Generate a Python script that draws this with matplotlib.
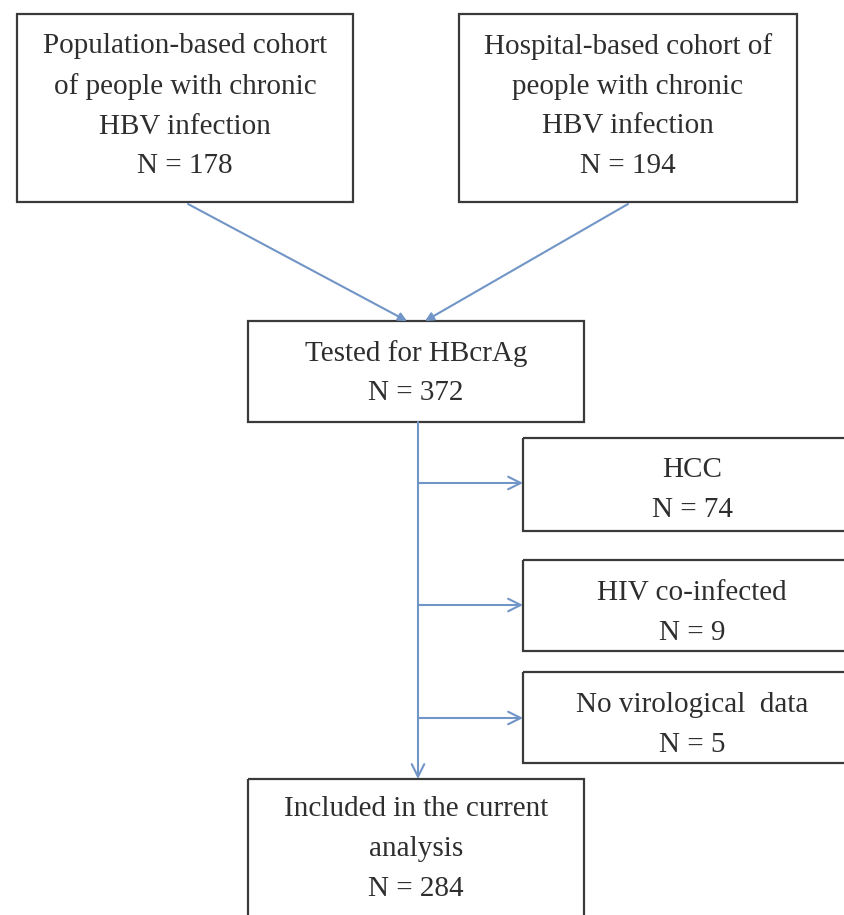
import matplotlib.pyplot as plt
from matplotlib.patches import Rectangle

# flowchart content
source_labels = ["Population-based cohort\nof people with chronic\nHBV infection",
                 "Hospital-based cohort of\npeople with chronic\nHBV infection"]
source_n = [178, 194]
tested_label = "Tested for HBcrAg"
tested_n = 372
excluded_labels = ["HCC", "HIV co-infected", "No virological  data"]
excluded_n = [74, 9, 5]
final_label = "Included in the current\nanalysis"
final_n = 284

edge = "#3a3a3a"
arrow_col = "#7195c6"
txt_col = "#2e2e2e"
FS = 21
LS = 1.68

fig = plt.figure(figsize=(8.44, 9.15), dpi=100)
ax = fig.add_axes([0, 0, 1, 1])
ax.set_xlim(0, 844)
ax.set_ylim(915, 0)
ax.axis("off")


def box(x0, y0, x1, y1, text, ty=None, tx=None):
    ax.add_patch(Rectangle((x0, y0), x1 - x0, y1 - y0, fill=False,
                           edgecolor=edge, linewidth=1.6))
    if ty is None:
        ty = (y0 + y1) / 2
    if tx is None:
        tx = (x0 + x1) / 2
    ax.text(tx, ty, text, ha="center", va="center", fontsize=FS, color=txt_col,
            family="Liberation Serif", linespacing=LS)


# top boxes
box(17, 14, 353, 202, f"{source_labels[0]}\nN = {source_n[0]}", ty=106)
box(459, 14, 797, 202, f"{source_labels[1]}\nN = {source_n[1]}", ty=106)

# tested box
box(248, 321, 584, 422, f"{tested_label}\nN = {tested_n}", ty=373)

# arrows from sources into tested box
for x_start, x_end in [(188, 407), (628, 425)]:
    ax.annotate("", xy=(x_end, 321), xytext=(x_start, 204),
                arrowprops=dict(arrowstyle="-|>,head_length=0.5,head_width=0.25",
                                color=arrow_col, lw=1.5, shrinkA=0, shrinkB=0))

# excluded boxes on the right
ex_boxes = [(438, 531), (560, 651), (672, 763)]
ex_arrow_y = [483, 605, 718]
ex_text_y = [490, 613, 725]
for (y0, y1), lab, n, ay, ty in zip(ex_boxes, excluded_labels, excluded_n,
                                    ex_arrow_y, ex_text_y):
    box(523, y0, 870, y1, f"{lab}\nN = {n}", tx=692, ty=ty)
    ax.annotate("", xy=(523, ay), xytext=(418, ay),
                arrowprops=dict(arrowstyle="->,head_length=0.9,head_width=0.45",
                                color=arrow_col, lw=1.5, shrinkA=0, shrinkB=0))

# vertical trunk down to final box
ax.annotate("", xy=(418, 779), xytext=(418, 422),
            arrowprops=dict(arrowstyle="->,head_length=0.9,head_width=0.45",
                            color=arrow_col, lw=1.5, shrinkA=0, shrinkB=0))

# final box (runs off the bottom)
box(248, 779, 584, 979, f"{final_label}\nN = {final_n}", ty=849)

fig.savefig("out.png", dpi=100, facecolor="white")
